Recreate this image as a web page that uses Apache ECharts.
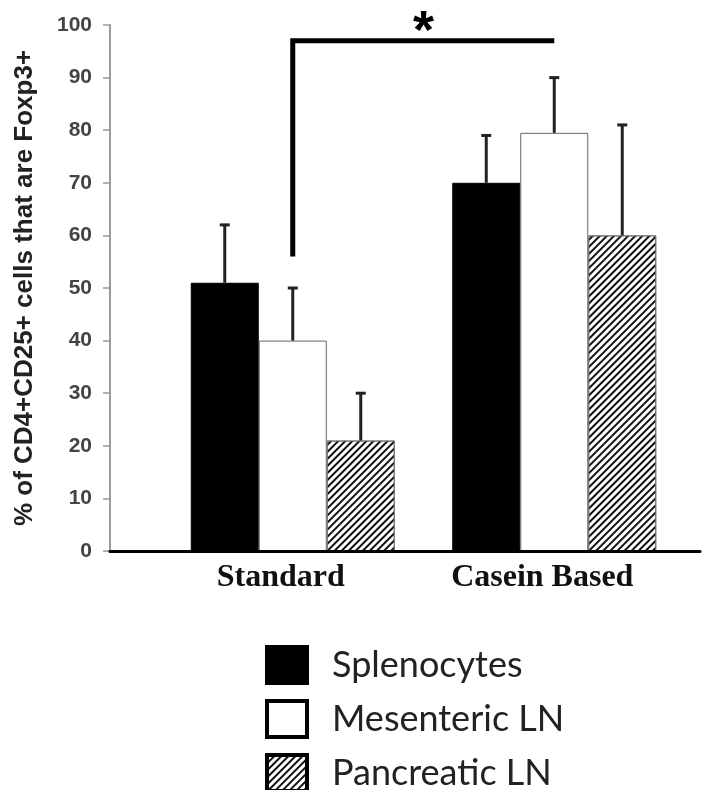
<!DOCTYPE html>
<html>
<head>
<meta charset="utf-8">
<script src="https://cdn.jsdelivr.net/npm/echarts@6/dist/echarts.min.js"></script>
<style>
html,body{margin:0;padding:0;background:#fff;}
#chart{width:707px;height:790px;}
</style>
</head>
<body>
<div id="chart"></div>
<script>
// ---- data ----
const categories = ['Standard', 'Casein Based'];
const seriesNames = ['Splenocytes', 'Mesenteric LN', 'Pancreatic LN'];
const splenocytes = [51, 70];
const splenocytesErr = [62, 79];
const mesenteric = [40, 79.5];
const mesentericErr = [50, 90];
const pancreatic = [21, 60];
const pancreaticErr = [30, 81];
const yTicks = [0, 10, 20, 30, 40, 50, 60, 70, 80, 90, 100];
// significance bracket: [fromCategory, toCategory, seriesIndex, bottomValue, topValue]
const bracket = [0, 1, 1, 56, 97];
const bracketLabel = '*';

// ---- styles ----
const BAR_W = 68;
const values = [splenocytes, mesenteric, pancreatic];
const errors = [splenocytesErr, mesentericErr, pancreaticErr];
const barStyles = [
  { color: '#000', borderColor: '#000', borderWidth: 1 },
  { color: '#fff', borderColor: '#666', borderWidth: 1 },
  { color: '#fff', borderColor: '#777', borderWidth: 1,
    decal: { symbol: 'rect', dashArrayX: [1, 0], dashArrayY: [2, 3], rotation: -Math.PI / 4, color: '#111', symbolSize: 1 } }
];

function errRender(k) {
  return function (params, api) {
    const cat = api.value(0);
    const base = api.coord([cat, api.value(1)]);
    const top = api.coord([cat, api.value(2)]);
    const x = base[0] + (k - 1) * BAR_W;
    return {
      type: 'group',
      children: [
        { type: 'line', shape: { x1: x, y1: base[1], x2: x, y2: top[1] }, style: { stroke: '#222', lineWidth: 3 } },
        { type: 'line', shape: { x1: x - 5, y1: top[1], x2: x + 5, y2: top[1] }, style: { stroke: '#222', lineWidth: 3 } }
      ]
    };
  };
}

const series = [];
values.forEach(function (v, k) {
  series.push({
    name: seriesNames[k], type: 'bar', xAxisIndex: 1, yAxisIndex: 1,
    data: v, barWidth: BAR_W, barGap: '0%',
    itemStyle: barStyles[k], emphasis: { disabled: true }, z: 2
  });
});
errors.forEach(function (e, k) {
  series.push({
    name: 'err' + k, type: 'custom', xAxisIndex: 1, yAxisIndex: 1,
    data: categories.map(function (c, i) { return [i, values[k][i], e[i]]; }),
    renderItem: errRender(k), z: 3, silent: true
  });
});
series.push({
  name: 'bracket', type: 'custom', xAxisIndex: 1, yAxisIndex: 1, z: 4, silent: true,
  data: [bracket],
  renderItem: function (params, api) {
    const off = (api.value(2) - 1) * BAR_W;
    const p1 = api.coord([api.value(0), api.value(3)]);
    const p2 = api.coord([api.value(0), api.value(4)]);
    const p3 = api.coord([api.value(1), api.value(4)]);
    const x1 = p1[0] + off, x2 = p3[0] + off;
    return {
      type: 'group',
      children: [
        { type: 'polyline', shape: { points: [[x1, p1[1]], [x1, p2[1]], [x2, p2[1]]] },
          style: { stroke: '#000', lineWidth: 5, fill: null, lineJoin: 'miter' } },
        { type: 'text', x: (x1 + x2) / 2, y: p2[1] - 8,
          style: { text: bracketLabel, font: 'bold 54px "Liberation Sans", Arial', fill: '#000', align: 'center', verticalAlign: 'middle' } }
      ]
    };
  }
});

const chart = echarts.init(document.getElementById('chart'), null, { renderer: 'canvas' });
chart.setOption({
  animation: false,
  backgroundColor: '#fff',
  grid: [
    { left: 110, right: 7, top: 25, bottom: 239 },
    { left: 162, right: 22, top: 25, bottom: 239 }
  ],
  xAxis: [
    { gridIndex: 0, type: 'value', min: 0, max: 1, z: 10,
      axisLine: { show: true, lineStyle: { color: '#000', width: 3 } },
      axisTick: { show: false }, axisLabel: { show: false }, splitLine: { show: false } },
    { gridIndex: 1, type: 'category', data: categories,
      axisLine: { show: false }, axisTick: { show: false }, splitLine: { show: false },
      axisLabel: { margin: 11, fontFamily: '"Liberation Serif", "Times New Roman", serif', fontWeight: 'bold',
        fontSize: 32, color: '#111', padding: [0, 24, 0, 0] } }
  ],
  yAxis: [
    { gridIndex: 0, type: 'value', min: 0, max: 100, interval: 10,
      name: '% of CD4+CD25+ cells that are Foxp3+', nameLocation: 'middle', nameGap: 72,
      nameTextStyle: { fontFamily: '"Liberation Sans", Arial, sans-serif', fontWeight: 'bold', fontSize: 26, color: '#222' },
      axisLine: { show: true, lineStyle: { color: '#999', width: 2 } },
      axisTick: { show: true, length: 7, lineStyle: { color: '#999', width: 1.5 } },
      axisLabel: { margin: 18, fontFamily: '"Liberation Sans", Arial, sans-serif', fontWeight: 'bold', fontSize: 21, color: '#444',
        formatter: function (v) { return yTicks.indexOf(v) >= 0 ? String(v) : ''; } },
      splitLine: { show: false } },
    { gridIndex: 1, type: 'value', min: 0, max: 100, show: false }
  ],
  legend: {
    data: seriesNames.map(function (n, k) {
      return { name: n, itemStyle: Object.assign({}, barStyles[k], { borderColor: '#000', borderWidth: 4 }) };
    }),
    orient: 'vertical', left: 265, top: 645, width: 400, height: 200, padding: 0,
    itemWidth: 40, itemHeight: 36, itemGap: 14,
    selectedMode: false, icon: 'rect',
    textStyle: { fontFamily: 'Lato, "Open Sans", sans-serif', fontSize: 36, color: '#222', lineHeight: 36, padding: [0, 0, 0, 20] }
  },
  series: series
});
</script>
</body>
</html>
